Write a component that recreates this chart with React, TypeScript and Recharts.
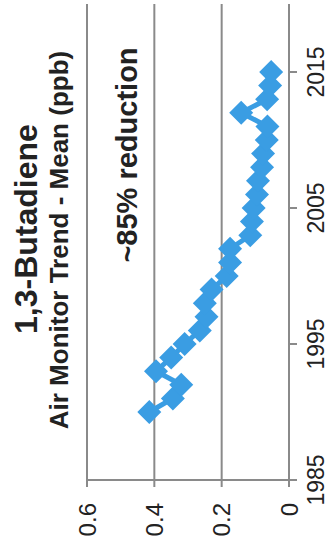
import { CartesianGrid, Line, LineChart, XAxis, YAxis } from "recharts";

// 1,3-butadiene annual mean from air monitors (ppb)
const years = [
  1990, 1991, 1992, 1993, 1994, 1995, 1996, 1997, 1998, 1999, 2000, 2001, 2002,
  2003, 2004, 2005, 2006, 2007, 2008, 2009, 2010, 2011, 2012, 2013, 2014, 2015,
];
const meanPpb = [
  0.415, 0.345, 0.32, 0.395, 0.35, 0.31, 0.265, 0.245, 0.25, 0.23, 0.185, 0.175, 0.175,
  0.115, 0.11, 0.105, 0.095, 0.092, 0.08, 0.077, 0.066, 0.064, 0.142, 0.065, 0.056, 0.053,
];
const yearTicks = [1985, 1995, 2005, 2015];
const ppbTicks = [0, 0.2, 0.4, 0.6];

const data = years.map((year, i) => ({ year, mean: meanPpb[i] }));

const W = 551;
const H = 330;
const BLUE = "#3a9de3";
const GRID = "#8a8a8a";
const FONT = "'Liberation Sans', Arial, sans-serif";

function Diamond({ cx, cy }: { cx?: number; cy?: number }) {
  if (cx == null || cy == null) return null;
  const r = 12;
  return (
    <polygon
      points={`${cx},${cy - r} ${cx + r},${cy} ${cx},${cy + r} ${cx - r},${cy}`}
      fill={BLUE}
    />
  );
}

export default function App() {
  return (
    <div
      style={{
        position: "absolute",
        left: 0,
        top: 0,
        width: H,
        height: W,
        overflow: "hidden",
        background: "#fff",
      }}
    >
      {/* chart is drawn landscape and turned a quarter turn counter-clockwise */}
      <div
        style={{
          position: "absolute",
          left: 0,
          top: 0,
          width: W,
          height: H,
          transformOrigin: "0 0",
          transform: `translate(0px, ${W}px) rotate(-90deg)`,
        }}
      >
        <LineChart
          width={W}
          height={H}
          data={data}
          margin={{ top: 87, right: 4, bottom: 11, left: 11 }}
        >
          <CartesianGrid vertical={false} stroke={GRID} strokeWidth={2} />
          <XAxis
            dataKey="year"
            type="number"
            domain={[1985, 2020]}
            ticks={yearTicks}
            height={30}
            tickSize={8}
            tickMargin={11}
            stroke={GRID}
            strokeWidth={2}
            tick={{ fill: "#222", fontSize: 23, fontFamily: FONT }}
          />
          <YAxis
            type="number"
            domain={[0, 0.6]}
            ticks={ppbTicks}
            width={60}
            tickSize={7}
            tickMargin={16}
            stroke={GRID}
            strokeWidth={2}
            tick={{ fill: "#222", fontSize: 24, fontFamily: FONT }}
          />
          <Line
            dataKey="mean"
            stroke={BLUE}
            strokeWidth={5}
            dot={(p: any) => <Diamond key={`d-${p.index}`} cx={p.cx} cy={p.cy} />}
            activeDot={false}
            isAnimationActive={false}
          />
        </LineChart>
        <svg
          width={W}
          height={H}
          style={{ position: "absolute", left: 0, top: 0, pointerEvents: "none" }}
        >
          <text x={322} y={37} textAnchor="middle" fontFamily={FONT} fontWeight="bold" fontSize={32} fill="#222">
            1,3-Butadiene
          </text>
          <text x={311} y={68} textAnchor="middle" fontFamily={FONT} fontWeight="bold" fontSize={26} fill="#222">
            Air Monitor Trend - Mean (ppb)
          </text>
          <text x={396} y={137} textAnchor="middle" fontFamily={FONT} fontWeight="bold" fontSize={29} fill="#222">
            ~85% reduction
          </text>
        </svg>
      </div>
    </div>
  );
}
